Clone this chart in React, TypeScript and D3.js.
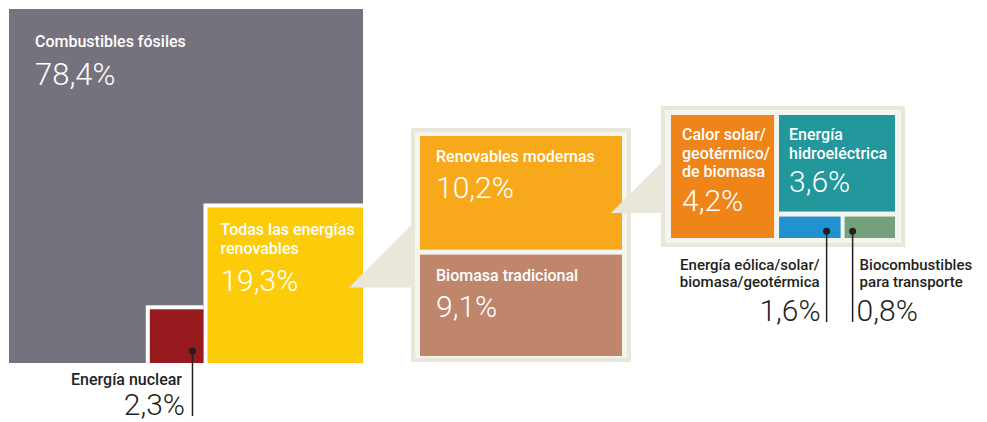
// Energy share infographic — nested squares + two callout panels.
// Squares sized with a sqrt scale (area ~ share), panels split by value.
import * as d3 from "d3";

const W = 987;
const H = 422;

// top level: share of final energy consumption
const mainLabels = ["Combustibles fósiles", "Todas las energías renovables", "Energía nuclear"];
const mainValues = [78.4, 19.3, 2.3];

// renewables breakdown
const renewLabels = ["Renovables modernas", "Biomasa tradicional"];
const renewValues = [10.2, 9.1];

// modern renewables breakdown
const modernLabels = [
  ["Calor solar/", "geotérmico/", "de biomasa"],
  ["Energía", "hidroeléctrica"],
  ["Energía eólica/solar/", "biomasa/geotérmica"],
  ["Biocombustibles", "para transporte"],
];
const modernValues = [4.2, 3.6, 1.6, 0.8];

const C = {
  fossil: "#75727d",
  renew: "#fccc0b",
  nuclear: "#971b1e",
  modern: "#f7a91b",
  biomass: "#bf866c",
  heat: "#ef8419",
  hydro: "#22979c",
  wind: "#2191cf",
  bio: "#74a07b",
  beige: "#e9e7d9",
  paper: "#f5f4ee",
  ink: "#231f20",
};

const es = d3.formatLocale({ decimal: ",", thousands: ".", grouping: [3], currency: ["", "€"] });
const pct = (v: number) => es.format(".1f")(v) + "%";

const FONT = "Roboto, 'Noto Sans', sans-serif";
const labelStyle = { fontSize: 16, fontWeight: 500 } as const;
const smallLabel = { fontSize: 15, fontWeight: 500 } as const;
const numStyle = { fontSize: 30, fontWeight: 300 } as const;

export default function App() {
  // ---- main square
  const x0 = 9;
  const y0 = 9;
  const side = d3.scaleSqrt().domain([0, 100]).range([0, 354]);
  const S = side(100);
  const R = x0 + S;
  const B = y0 + S;
  const gap = 4;

  const sRen = side(mainValues[1]);
  const ren = { x: R - sRen, y: B - sRen, w: sRen, h: sRen };
  const sNuc = side(mainValues[2]);
  const nuc = { x: ren.x - gap - sNuc, y: B - sNuc, w: sNuc, h: sNuc };

  // ---- middle panel (renewables)
  const mid = { x: 411, y: 128, w: 220, h: 234 };
  const midIn = { x: mid.x + 9, y: mid.y + 8, w: mid.w - 18, h: mid.h - 14 };
  const midGap = 5;
  const hMid = d3
    .scaleLinear()
    .domain([0, d3.sum(renewValues)])
    .range([0, midIn.h - midGap]);
  const midBoxes = renewValues.map((v, i) => {
    const before = d3.sum(renewValues.slice(0, i));
    return {
      x: midIn.x,
      y: midIn.y + hMid(before) + i * midGap,
      w: midIn.w,
      h: hMid(v),
    };
  });

  // ---- right panel (modern renewables)
  const rp = { x: 661, y: 106, w: 244, h: 141 };
  const rIn = { x: rp.x + 10, y: rp.y + 9, w: rp.w - 20, h: rp.h - 18 };
  const fx = d3.scaleLinear().domain([0, 1]).range([rIn.x, rIn.x + rIn.w]);
  const fy = d3.scaleLinear().domain([0, 1]).range([rIn.y, rIn.y + rIn.h]);
  const colSplit = 0.46;
  const rowSplit = 0.785;
  const botSplit = 0.55;
  const g5 = 5;
  const heat = { x: fx(0), y: fy(0), w: fx(colSplit) - fx(0), h: fy(1) - fy(0) };
  const rc = fx(colSplit) + g5;
  const hydro = { x: rc, y: fy(0), w: fx(1) - rc, h: fy(rowSplit) - fy(0) };
  const rowY = fy(rowSplit) + g5;
  const bw = (fx(1) - rc - 4) * botSplit;
  const wind = { x: rc, y: rowY, w: bw, h: fy(1) - rowY };
  const bio = { x: rc + bw + 4, y: rowY, w: fx(1) - rc - bw - 4, h: fy(1) - rowY };
  const rightBoxes = [heat, hydro, wind, bio];
  const rightColors = [C.heat, C.hydro, C.wind, C.bio];

  // ---- callout wedges (45°)
  const wedge = (tipX: number, tipY: number, edgeX: number) => {
    const p = d3.path();
    p.moveTo(tipX, tipY);
    p.lineTo(edgeX, tipY - (edgeX - tipX));
    p.lineTo(edgeX, tipY);
    p.closePath();
    return p.toString();
  };
  const w1 = wedge(ren.x + ren.w - 14, ren.y + 80, mid.x + 1);
  const w2 = wedge(midBoxes[0].x + midBoxes[0].w - 11, midBoxes[0].y + 77, rp.x + 1);

  const frame = (f: { x: number; y: number; w: number; h: number }) => (
    <g>
      <rect x={f.x} y={f.y} width={f.w} height={f.h} fill={C.beige} />
      <rect x={f.x + 4} y={f.y + 4} width={f.w - 8} height={f.h - 8} fill={C.paper} />
    </g>
  );

  const nucDot = { x: nuc.x + nuc.w - 11, y: nuc.y + nuc.h - 12 };
  const windDot = { x: wind.x + wind.w - 14, y: wind.y + wind.h / 2 + 4 };
  const bioDot = { x: bio.x + 8, y: bio.y + bio.h / 2 + 4 };
  const leaderEnd = 322;

  return (
    <svg
      width={W}
      height={H}
      viewBox={`0 0 ${W} ${H}`}
      style={{ position: "absolute", left: 0, top: 0, background: "#fff" }}
      fontFamily={FONT}
    >
      {/* main square */}
      <rect x={x0} y={y0} width={S} height={S} fill={C.fossil} />
      <rect x={ren.x - gap} y={ren.y - gap} width={ren.w + gap} height={ren.h + gap} fill="#fff" />
      <rect x={ren.x} y={ren.y} width={ren.w} height={ren.h} fill={C.renew} />
      <rect x={nuc.x - gap} y={nuc.y - gap} width={nuc.w + gap} height={nuc.h + gap} fill="#fff" />
      <rect x={nuc.x} y={nuc.y} width={nuc.w} height={nuc.h} fill={C.nuclear} />

      <g fill="#fff">
        <text x={x0 + 26} y={y0 + 38} {...labelStyle}>{mainLabels[0]}</text>
        <text x={x0 + 26} y={y0 + 76} fontSize={31} fontWeight={300}>{pct(mainValues[0])}</text>
        <text x={ren.x + 13} y={ren.y + 28} {...labelStyle}>Todas las energías</text>
        <text x={ren.x + 13} y={ren.y + 47} {...labelStyle}>renovables</text>
        <text x={ren.x + 13} y={ren.y + 84} {...numStyle}>{pct(mainValues[1])}</text>
      </g>

      {/* nuclear leader */}
      <line x1={nucDot.x} y1={nucDot.y} x2={nucDot.x} y2={416} stroke={C.ink} strokeWidth={1.5} />
      <circle cx={nucDot.x} cy={nucDot.y} r={3.5} fill={C.ink} />
      <text x={182} y={385} textAnchor="end" fill={C.ink} {...labelStyle}>{mainLabels[2]}</text>
      <text x={185} y={415} textAnchor="end" fill={C.ink} {...numStyle}>{pct(mainValues[2])}</text>

      {/* middle panel */}
      {frame(mid)}
      <path d={w1} fill={C.beige} />
      {midBoxes.map((b, i) => (
        <g key={i}>
          <rect x={b.x} y={b.y} width={b.w} height={b.h} fill={i === 0 ? C.modern : C.biomass} />
          <text x={b.x + 16} y={b.y + 26} fill="#fff" {...labelStyle}>{renewLabels[i]}</text>
          <text x={b.x + 16} y={b.y + 62} fill="#fff" {...numStyle}>{pct(renewValues[i])}</text>
        </g>
      ))}

      {/* right panel */}
      {frame(rp)}
      <path d={w2} fill={C.beige} />
      {rightBoxes.map((b, i) => (
        <rect key={i} x={b.x} y={b.y} width={b.w} height={b.h} fill={rightColors[i]} />
      ))}
      <g fill="#fff">
        {modernLabels[0].map((t, j) => (
          <text key={j} x={heat.x + 11} y={heat.y + 25 + j * 18.5} {...labelStyle}>{t}</text>
        ))}
        <text x={heat.x + 11} y={heat.y + 96} {...numStyle}>{pct(modernValues[0])}</text>
        {modernLabels[1].map((t, j) => (
          <text key={j} x={hydro.x + 10} y={hydro.y + 25 + j * 18.5} {...labelStyle}>{t}</text>
        ))}
        <text x={hydro.x + 10} y={hydro.y + 77} {...numStyle}>{pct(modernValues[1])}</text>
      </g>

      {/* small-share leaders */}
      <g stroke={C.ink} strokeWidth={1.5}>
        <line x1={windDot.x} y1={windDot.y} x2={windDot.x} y2={leaderEnd} />
        <line x1={bioDot.x} y1={bioDot.y} x2={bioDot.x} y2={leaderEnd} />
      </g>
      <circle cx={windDot.x} cy={windDot.y} r={3.5} fill={C.ink} />
      <circle cx={bioDot.x} cy={bioDot.y} r={3.5} fill={C.ink} />
      <g fill={C.ink}>
        {modernLabels[2].map((t, j) => (
          <text key={j} x={windDot.x - 7} y={270 + j * 16.5} textAnchor="end" {...smallLabel}>{t}</text>
        ))}
        <text x={windDot.x - 6} y={321} textAnchor="end" {...numStyle}>{pct(modernValues[2])}</text>
        {modernLabels[3].map((t, j) => (
          <text key={j} x={bioDot.x + 7} y={270 + j * 16.5} {...smallLabel}>{t}</text>
        ))}
        <text x={bioDot.x + 4} y={321} {...numStyle}>{pct(modernValues[3])}</text>
      </g>
    </svg>
  );
}
